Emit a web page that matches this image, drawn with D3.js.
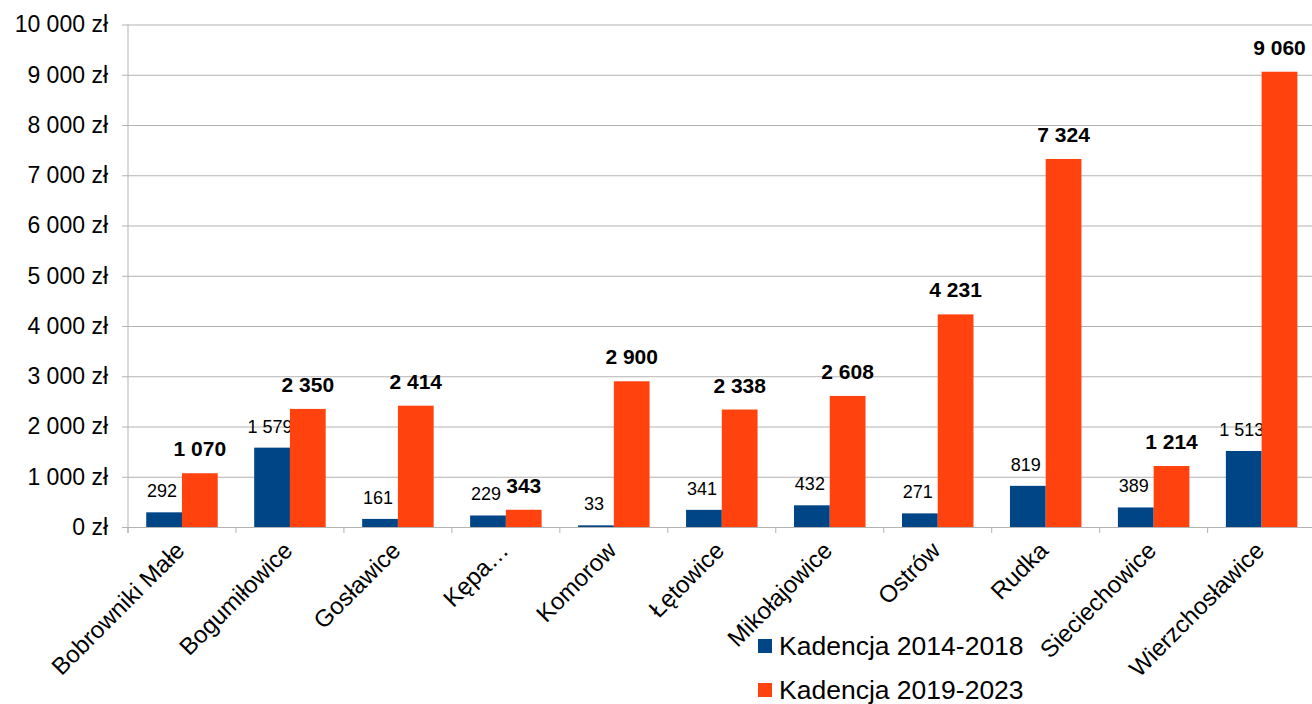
<!DOCTYPE html>
<html>
<head>
<meta charset="utf-8">
<script src="https://cdn.jsdelivr.net/npm/d3@7"></script>
<style>
  body { margin: 0; background: #fff; }
  svg { display: block; font-family: "Liberation Sans", Arial, sans-serif; }
</style>
</head>
<body>
<div id="chart"></div>
<script>
const categories = ["Bobrowniki Małe", "Bogumiłowice", "Gosławice", "Kępa…", "Komorow", "Łętowice",
    "Mikołajowice", "Ostrów", "Rudka", "Sieciechowice", "Wierzchosławice"];
const kadencja2014 = [292, 1579, 161, 229, 33, 341, 432, 271, 819, 389, 1513];
const kadencja2019 = [1070, 2350, 2414, 343, 2900, 2338, 2608, 4231, 7324, 1214, 9060];
const seriesNames = ["Kadencja 2014-2018", "Kadencja 2019-2023"];
const seriesColors = ["#004586", "#ff420e"];
const yTicks = [0, 1000, 2000, 3000, 4000, 5000, 6000, 7000, 8000, 9000, 10000];

const W = 1312, H = 704;
const margin = { top: 24.5, left: 128, right: -3.6, bottom: 177 };
const innerW = W - margin.left - margin.right;
const innerH = H - margin.top - margin.bottom;

const pl = d3.formatLocale({ decimal: ",", thousands: " ", grouping: [3], currency: ["", " zł"] });
const fmtMoney = pl.format("$,");
const fmtNum = pl.format(",");

const svg = d3.select("#chart").append("svg")
    .attr("width", W).attr("height", H);
const g = svg.append("g").attr("transform", `translate(${margin.left},${margin.top})`);

const x = d3.scaleBand().domain(categories).range([0, innerW]).paddingInner(0).paddingOuter(0);
const inner = d3.scaleBand().domain([0, 1]).range([0, x.bandwidth()]).paddingInner(0).paddingOuter(0.51);
const y = d3.scaleLinear().domain([0, 10000]).range([innerH, 0]);

// grid + y axis
g.append("g")
    .call(d3.axisLeft(y).tickValues(yTicks).tickSize(-innerW - 6).tickPadding(14).tickFormat(fmtMoney))
    .attr("transform", "translate(-6,0)")
    .call(s => s.select(".domain").remove())
    .call(s => s.selectAll("line").attr("stroke", "#b3b3b3"))
    .call(s => s.selectAll("text").attr("font-size", 23).attr("fill", "#000")
        .attr("font-family", "Liberation Sans, Arial, sans-serif"));

g.append("line").attr("x1", 0).attr("x2", 0).attr("y1", 0).attr("y2", innerH + 6)
    .attr("stroke", "#b3b3b3");

// x tick marks at band boundaries
g.selectAll(".xtick").data(d3.range(categories.length + 1)).join("line")
    .attr("x1", i => i * x.step()).attr("x2", i => i * x.step())
    .attr("y1", innerH).attr("y2", innerH + 6).attr("stroke", "#b3b3b3");

const series = [kadencja2014, kadencja2019];
series.forEach((vals, si) => {
    g.selectAll(".bar" + si).data(vals).join("rect")
        .attr("x", (d, i) => x(categories[i]) + inner(si))
        .attr("y", d => y(d))
        .attr("width", inner.bandwidth())
        .attr("height", d => innerH - y(d))
        .attr("fill", seriesColors[si]);
    g.selectAll(".lab" + si).data(vals).join("text")
        .attr("x", (d, i) => x(categories[i]) + inner(si) + inner.bandwidth() / 2 - (si ? 0 : 2))
        .attr("y", d => y(d) - (si ? 17 : 15))
        .attr("text-anchor", "middle")
        .attr("font-size", si ? 21 : 18)
        .attr("font-weight", si ? "bold" : "normal")
        .attr("fill", "#000")
        .text(d => fmtNum(d));
});

// x labels
g.selectAll(".xl").data(categories).join("text")
    .attr("transform", d => `translate(${x(d) + x.bandwidth() / 2 + 4},${innerH + 25}) rotate(-45)`)
    .attr("text-anchor", "end")
    .attr("font-size", 24)
    .attr("fill", "#000")
    .text(d => d);

// legend
const lg = svg.append("g").attr("transform", "translate(758,639)");
seriesNames.forEach((name, i) => {
    lg.append("rect").attr("x", 0).attr("y", i * 44).attr("width", 14).attr("height", 14)
        .attr("fill", seriesColors[i]);
    lg.append("text").attr("x", 21).attr("y", i * 44 + 16).attr("font-size", 26.5)
        .attr("fill", "#000").text(name);
});
</script>
</body>
</html>
